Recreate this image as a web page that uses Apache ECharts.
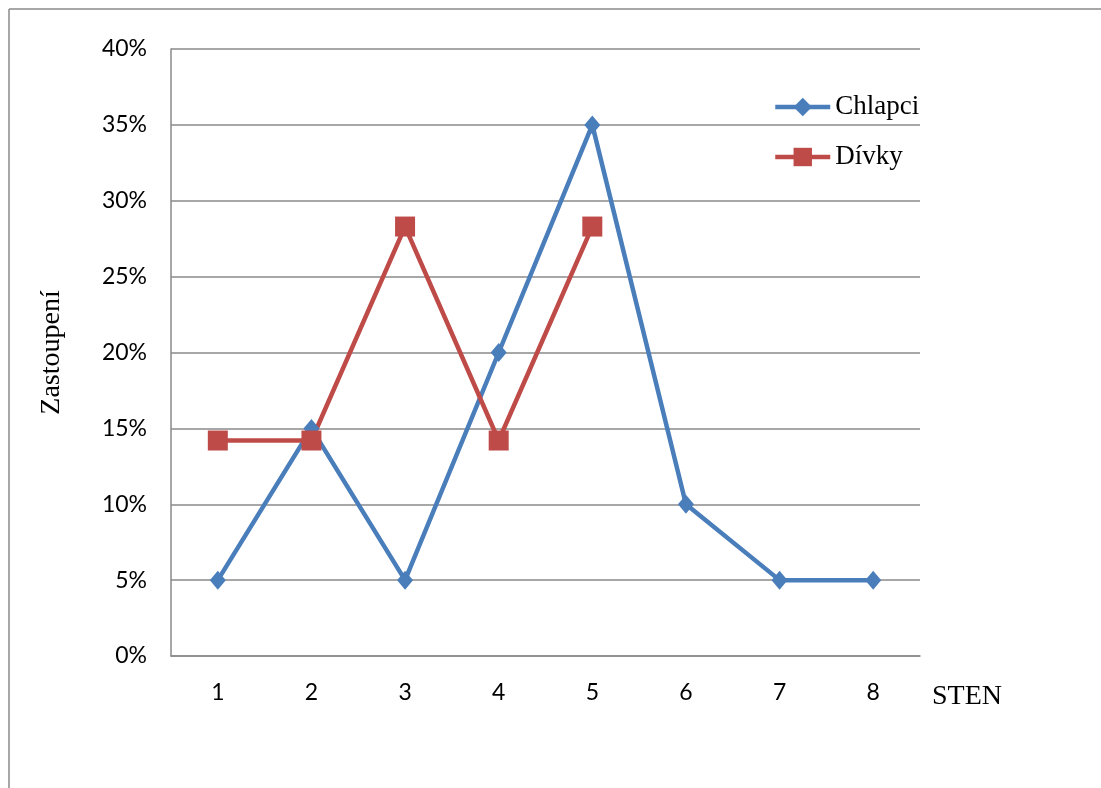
<!DOCTYPE html>
<html>
<head>
<meta charset="utf-8">
<script src="https://cdn.jsdelivr.net/npm/echarts@6/dist/echarts.min.js"></script>
<style>
  html, body { margin: 0; padding: 0; background: #fff; }
  #chart { width: 1101px; height: 788px; }
</style>
</head>
<body>
<div id="chart"></div>
<script>
// STEN score categories
const stenLevels = ['1', '2', '3', '4', '5', '6', '7', '8'];
// Share of boys per STEN (%)
const chlapci = [5, 15, 5, 20, 35, 10, 5, 5];
// Share of girls per STEN (%)
const divky = [14.2, 14.2, 28.3, 14.2, 28.3, null, null, null];
// Y axis range (%)
const yMin = 0, yMax = 40, yStep = 5;

const gray = '#8a8a8a';
const blue = '#4a7ebb';
const red = '#be4b48';
const serif = '"Liberation Serif", "Times New Roman", serif';
const sans = 'Lato, "Open Sans", sans-serif';

const chart = echarts.init(document.getElementById('chart'));
chart.setOption({
  animation: false,
  backgroundColor: '#fff',
  grid: { left: 171, right: 181, top: 49, bottom: 132, containLabel: false },
  graphic: [
    { type: 'line', shape: { x1: 9, y1: 9, x2: 1101, y2: 9 }, style: { stroke: gray, lineWidth: 1.5 } },
    { type: 'line', shape: { x1: 9, y1: 9, x2: 9, y2: 788 }, style: { stroke: gray, lineWidth: 1.5 } }
  ],
  legend: {
    orient: 'vertical',
    left: 773,
    top: 92,
    padding: 0,
    itemWidth: 55,
    itemHeight: 23,
    itemGap: 20,
    lineStyle: { width: 4.5 },
    textStyle: { fontFamily: serif, fontSize: 27, color: '#000', lineHeight: 30 },
    data: ['Chlapci', 'Dívky']
  },
  xAxis: {
    type: 'category',
    data: stenLevels,
    boundaryGap: true,
    name: 'STEN',
    nameLocation: 'end',
    nameGap: 12,
    nameTextStyle: { fontFamily: serif, fontSize: 28, color: '#000', verticalAlign: 'top', padding: [27, 0, 0, 0] },
    axisLine: { show: true, lineStyle: { color: gray, width: 1.5 } },
    axisTick: { show: false },
    axisLabel: { margin: 25, fontFamily: sans, fontSize: 23, color: '#000' },
    splitLine: { show: false }
  },
  yAxis: {
    type: 'value',
    min: yMin,
    max: yMax,
    interval: yStep,
    name: 'Zastoupení',
    nameLocation: 'middle',
    nameGap: 105,
    nameRotate: 90,
    nameTextStyle: { fontFamily: serif, fontSize: 28, color: '#000' },
    axisLine: { show: true, lineStyle: { color: gray, width: 1.5 } },
    axisTick: { show: false },
    axisLabel: { margin: 24, fontFamily: sans, fontSize: 23, color: '#000', formatter: v => v + '%' },
    splitLine: { show: true, lineStyle: { color: gray, width: 1.5 } }
  },
  series: [
    {
      name: 'Chlapci',
      type: 'line',
      data: chlapci,
      symbol: 'diamond',
      symbolSize: [16, 19],
      itemStyle: { color: blue },
      lineStyle: { color: blue, width: 4.5 }
    },
    {
      name: 'Dívky',
      type: 'line',
      data: divky,
      symbol: 'rect',
      symbolSize: 20,
      itemStyle: { color: red },
      lineStyle: { color: red, width: 4.5 }
    }
  ]
});
</script>
</body>
</html>
